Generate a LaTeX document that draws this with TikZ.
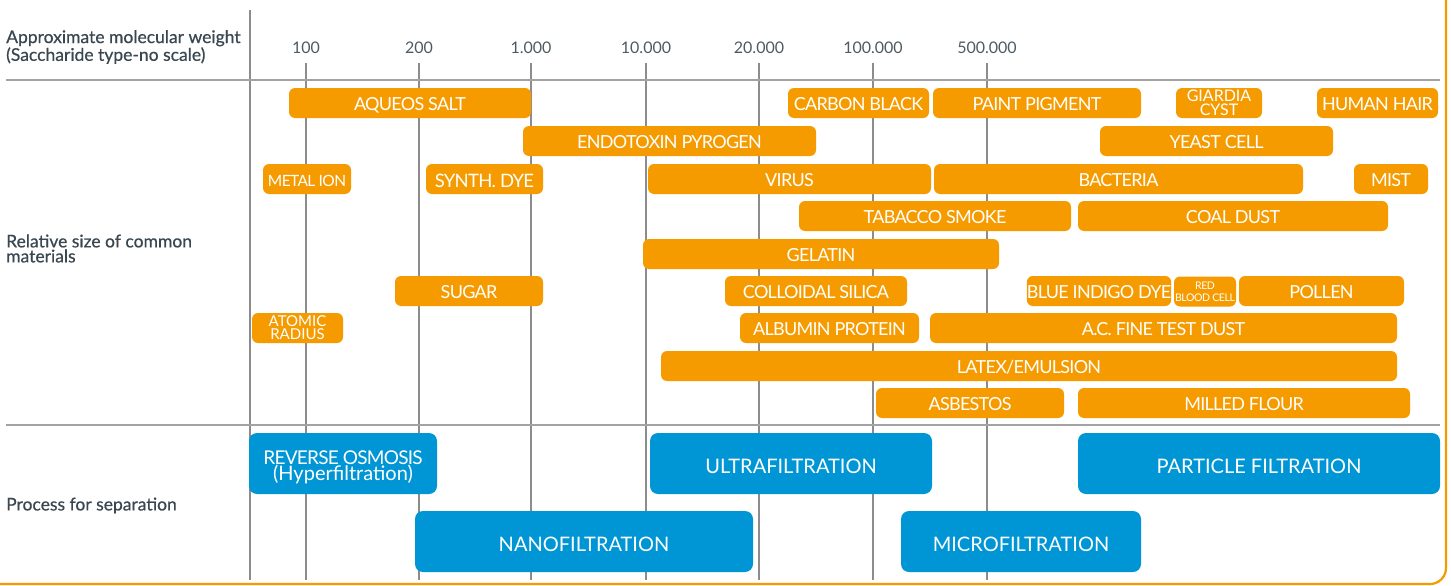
\documentclass[tikz,border=0pt]{standalone}
\usepackage{fontspec}
\setmainfont{Lato}
\newfontfamily\lab{Lato}[LetterSpace=-4.0]
\newfontfamily\blab{Lato}
\newfontfamily\headf{Lato}[FakeBold=0.6]
\definecolor{og}{HTML}{F59B00}
\definecolor{bl}{HTML}{0096D6}
\definecolor{hd}{HTML}{3A4750}
\definecolor{gl}{HTML}{8C8C8C}
\tikzset{
  obox/.style={fill=og, rounded corners=6pt, text=white, minimum height=30pt, inner sep=0pt,
    font=\lab\fontsize{18}{18}\selectfont, text height=15.9pt, text depth=0pt},
  obox2/.style={fill=og, rounded corners=6pt, text=white, minimum height=30pt, inner sep=0pt, align=center},
  bbox/.style={fill=bl, rounded corners=8pt, text=white, inner sep=0pt,
    font=\blab\fontsize{20}{20}\selectfont, text height=19.3pt, text depth=0pt},
  grid/.style={draw=gl, line width=1.3pt},
  hline/.style={draw=gl!80, line width=1.8pt},
  head/.style={text=hd, anchor=west, inner sep=0pt, font=\headf\fontsize{17.5}{15}\selectfont, align=left},
  axl/.style={text=hd!90, inner sep=0pt, font=\fontsize{16}{16}\selectfont}
}
\newcommand\obox[6][]{\node[obox, minimum width={#4-#3}, #1] (#2) at ({(#3+#4)/2},#5) {#6};}
\newcommand\bbox[6]{\node[bbox, minimum width={#3-#2}, minimum height={#5-#4}] (#1) at ({(#2+#3)/2},{(#4+#5)/2}) {#6};}
\begin{document}
\begin{tikzpicture}[x=1pt,y=-1pt]
\useasboundingbox (0,0) rectangle (1451,586);
\begin{scope}
\clip (0,0) rectangle (1451,586);
\draw[og, line width=2.2pt, rounded corners=16pt] (-30,-30) rectangle (1446,584);
\end{scope}
% grid
\draw[grid] (250,10) -- (250,580);
\foreach \x/\t [count=\i] in {306/100,419/200,531/1.000,646/10.000,759/20.000,873/100.000,987/500.000}{
  \node[axl] (ax\i) at (\x,48) {\t};
  \draw[grid] (\x,63) -- (\x,580);
}
\draw[hline] (6,80) -- (1440,80);
\draw[hline] (6,425) -- (1440,425);
% headings
\node[head] (h1) at (6,47) {Approximate molecular weight\\(Saccharide type-no scale)};
\node[head] (h2) at (6,248.5) {Relative size of common\\materials};
\node[head] (h3) at (6,505.5) {Process for separation};
% orange boxes
\obox{aq}{289}{531}{103}{AQUEOS SALT}
\obox{cb}{788}{929}{103}{CARBON BLACK}
\obox{pp}{933}{1141}{103}{PAINT PIGMENT}
\node[obox2, minimum width=86pt, font=\blab\fontsize{16}{13.5}\selectfont] (gc) at (1219,103) {GIARDIA\\CYST};
\obox{hh}{1317}{1438}{103}{HUMAN HAIR}
\obox{en}{523}{816}{141}{ENDOTOXIN PYROGEN}
\obox{ye}{1100}{1333}{141}{YEAST CELL}
\obox[font=\lab\fontsize{15.5}{15.5}\selectfont, text height=14.1pt]{mi}{263}{351}{179}{METAL ION}
\obox[font=\lab\fontsize{18.5}{18.5}\selectfont, text height=16.2pt]{sd}{426}{543}{179}{SYNTH. DYE}
\obox{vi}{648}{931}{179}{VIRUS}
\obox{ba}{934}{1303}{179}{BACTERIA}
\obox{ms}{1354}{1428}{179}{MIST}
\obox{ts}{799}{1071}{216}{TABACCO SMOKE}
\obox{cd}{1078}{1388}{216}{COAL DUST}
\obox{ge}{643}{999}{254}{GELATIN}
\obox{su}{395}{543}{291}{SUGAR}
\obox{cs}{725}{907}{291}{COLLOIDAL SILICA}
\obox{bi}{1030}{1168}{291}{BLUE INDIGO DYE}
\node[obox2, minimum width=62pt, font=\lab\fontsize{10.5}{12}\selectfont] (rb) at (1205,291.5) {RED\\BLOOD CELL};
\obox{po}{1239}{1404}{291}{POLLEN}
\node[obox2, minimum width=91pt, font=\blab\fontsize{15}{13}\selectfont] (ar) at (297.5,328) {ATOMIC\\RADIUS};
\obox{ap}{740}{919}{328}{ALBUMIN PROTEIN}
\obox{ac}{930}{1397}{328}{A.C. FINE TEST DUST}
\obox{le}{661}{1397}{366}{LATEX/EMULSION}
\obox{as}{876}{1064}{403}{ASBESTOS}
\obox{mf}{1078}{1410}{403}{MILLED FLOUR}
% blue boxes
\node[fill=bl, rounded corners=8pt, text=white, inner sep=0pt, minimum width=188pt, minimum height=61pt, align=center,
  font=\blab\fontsize{20}{16}\selectfont] (ro) at (343,463.5) {};
\node[text=white, inner sep=0pt, align=center, font=\blab\fontsize{20}{16}\selectfont] (rot) at (343,467)
  {{\lab\fontsize{19}{16}\selectfont REVERSE OSMOSIS}\\(Hyperfiltration)};
\bbox{uf}{650}{932}{433}{494}{ULTRAFILTRATION}
\bbox{pf}{1078}{1440}{433}{494}{PARTICLE FILTRATION}
\bbox{nf}{415}{753}{511}{572}{NANOFILTRATION}
\bbox{mf2}{901}{1141}{511}{572}{MICROFILTRATION}
\end{tikzpicture}
\end{document}
